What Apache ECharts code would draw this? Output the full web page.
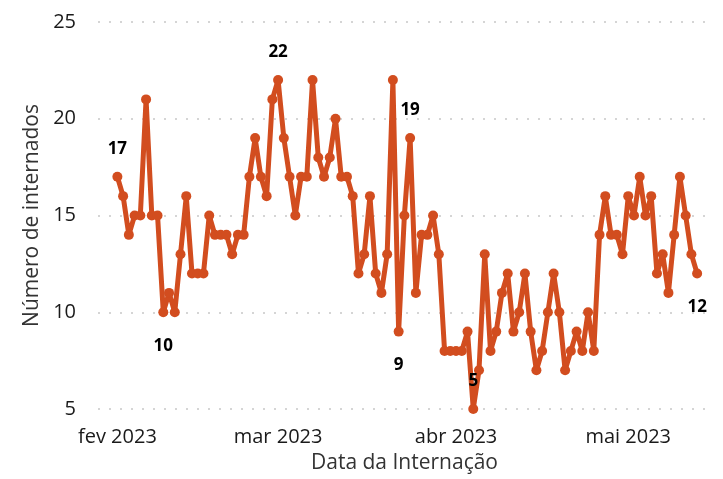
<!doctype html>
<html lang="pt">
<head>
    <meta charset="UTF-8">
    <title>Número de internados</title>
    <script src="https://cdn.jsdelivr.net/npm/echarts@6/dist/echarts.min.js"></script>
    <style>
        html, body { margin: 0; padding: 0; background: #fff; }
        #chart { width: 723px; height: 479px; }
    </style>
</head>
<body>
<div id="chart"></div>
<script type="text/javascript">
    // valores diarios por mes (2023)
    var febValues = [17, 16, 14, 15, 15, 21, 15, 15, 10, 11, 10, 13, 16, 12, 12, 12, 15, 14, 14, 14, 13, 14, 14, 17, 19, 17, 16, 21];
    var marValues = [22, 19, 17, 15, 17, 17, 22, 18, 17, 18, 20, 17, 17, 16, 12, 13, 16, 12, 11, 13, 22, 9, 15, 19, 11, 14, 14, 15, 13, 8, 8];
    var aprValues = [8, 8, 9, 5, 7, 13, 8, 9, 11, 12, 9, 10, 12, 9, 7, 8, 10, 12, 10, 7, 8, 9, 8, 10, 8, 14, 16, 14, 14, 13];
    var mayValues = [16, 15, 17, 15, 16, 12, 13, 11, 14, 17, 15, 13, 12];
    var monthNames = ['jan', 'fev', 'mar', 'abr', 'mai', 'jun'];
    var yTicks = [5, 10, 15, 20, 25];

    // rotulos destacados: dia -> posicao
    var highlights = {
        '2023-02-01': 'top',
        '2023-02-09': 'bottom',
        '2023-03-01': 'top',
        '2023-03-22': 'bottom',
        '2023-03-24': 'top',
        '2023-04-04': 'top',
        '2023-05-13': 'bottom'
    };

    var pad = function (n) { return n < 10 ? '0' + n : '' + n; };

    // monta a serie
    var seriesData = [];
    [[1, febValues], [2, marValues], [3, aprValues], [4, mayValues]].forEach(function (m) {
        m[1].forEach(function (v, i) {
            var key = '2023-' + pad(m[0] + 1) + '-' + pad(i + 1);
            var item = { value: [new Date(2023, m[0], i + 1).getTime(), v] };
            if (highlights[key]) {
                item.label = {
                    show: true,
                    position: highlights[key],
                    distance: highlights[key] === 'top' ? 14 : 20
                };
            }
            seriesData.push(item);
        });
    });

    var myChart = echarts.init(document.getElementById('chart'));
    var option = {
        animation: false,
        grid: { left: 98, right: 12, top: 22, bottom: 69 },
        xAxis: {
            type: 'time',
            min: new Date(2023, 0, 28, 15).getTime(),
            max: new Date(2023, 4, 15, 10).getTime(),
            splitNumber: 4,
            name: 'Data da Internação',
            nameLocation: 'middle',
            nameGap: 44,
            nameTextStyle: { fontFamily: 'Open Sans', fontSize: 21, color: '#333' },
            axisLine: { show: false },
            axisTick: { show: false },
            splitLine: { show: false },
            axisLabel: {
                fontFamily: 'Open Sans',
                fontSize: 20,
                color: '#1a1a1a',
                margin: 18,
                showMinLabel: false,
                showMaxLabel: false,
                formatter: function (val) {
                    var d = new Date(val);
                    if (d.getDate() !== 1 || d.getHours() !== 0) return '';
                    return monthNames[d.getMonth()] + ' ' + d.getFullYear();
                }
            }
        },
        yAxis: {
            type: 'value',
            min: yTicks[0],
            max: yTicks[yTicks.length - 1],
            interval: 5,
            name: 'Número de internados',
            nameLocation: 'middle',
            nameGap: 51,
            nameTextStyle: { fontFamily: 'Open Sans', fontSize: 21, color: '#333' },
            axisLine: { show: false },
            axisTick: { show: false },
            axisLabel: { fontFamily: 'Open Sans', fontSize: 20, color: '#1a1a1a', margin: 22 },
            splitLine: { lineStyle: { type: [2, 9], color: '#c8c8c8', width: 1.5 } }
        },
        series: [{
            type: 'line',
            data: seriesData,
            symbol: 'circle',
            symbolSize: 10,
            showAllSymbol: true,
            lineStyle: { color: '#d24d1f', width: 5 },
            itemStyle: { color: '#d24d1f' },
            label: {
                show: false,
                fontFamily: 'Open Sans',
                fontSize: 17,
                fontWeight: 'bold',
                color: '#000'
            }
        }]
    };
    myChart.setOption(option);
</script>
</body>
</html>
